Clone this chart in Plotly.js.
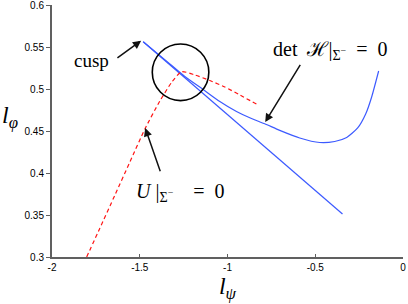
<!DOCTYPE html>
<html>
<head>
<meta charset="utf-8">
<script src="https://cdn.plot.ly/plotly-3.0.1.min.js"></script>
<style>html,body{margin:0;padding:0;background:#fff;}#chart{width:408px;height:304px;}</style>
</head>
<body>
<div id="chart"></div>
<script>
// Straight blue branch
const lineX = [-1.4804, -0.3448];
const lineY = [0.5563, 0.3512];
// Curved blue branch: det H|Σ- = 0
const detX = [-1.4804, -1.3284, -1.2430, -1.1389, -1.0438, -0.9488, -0.8731, -0.7877, -0.7023, -0.5885, -0.4746, -0.3892, -0.3209, -0.2583, -0.2127, -0.1786, -0.1388];
const detY = [0.5563, 0.5298, 0.5149, 0.4994, 0.4851, 0.4732, 0.4657, 0.4586, 0.4508, 0.4417, 0.4363, 0.4375, 0.4423, 0.4536, 0.4702, 0.4905, 0.5214];
// Red dashed: U|Σ- = 0
const uX = [-1.8025, -1.7268, -1.6414, -1.5561, -1.4707, -1.3853, -1.3170, -1.2618, -1.1861, -1.1007, -1.0154, -0.9300, -0.8350];
const uY = [0.3000, 0.3345, 0.3738, 0.4131, 0.4524, 0.4857, 0.5083, 0.5206, 0.5167, 0.5101, 0.5024, 0.4929, 0.4821];
// Ticks
const xTickVals = [-2, -1.5, -1, -0.5, 0];
const xTickText = ["-2", "-1.5", "-1", "-0.5", "0"];
const yTickVals = [0.3, 0.35, 0.4, 0.45, 0.5, 0.55, 0.6];
const yTickText = ["0.3", "0.35", "0.4", "0.45", "0.5", "0.55", "0.6"];
// Circle around cusp region
const circX = [-1.4286, -1.1064];
const circY = [0.4862, 0.5536];

const blue = "rgb(60,90,255)";
const red = "rgb(255,20,20)";
const serif = "Liberation Serif, Times New Roman, serif";

const traces = [
  {x: lineX, y: lineY, mode: "lines", line: {color: blue, width: 1.2}, hoverinfo: "skip"},
  {x: detX, y: detY, mode: "lines", line: {color: blue, width: 1.2, shape: "spline", smoothing: 0.6}, hoverinfo: "skip"},
  {x: uX, y: uY, mode: "lines", line: {color: red, width: 1.2, dash: "4px,3px", shape: "spline", smoothing: 0.6}, hoverinfo: "skip"}
];

const arrowBase = {showarrow: true, arrowhead: 2, arrowsize: 1.1, arrowwidth: 1.5, arrowcolor: "#111", text: "", axref: "x", ayref: "y", xref: "x", yref: "y"};

const layout = {
  width: 408, height: 304,
  margin: {l: 52, r: 5, t: 5, b: 47},
  paper_bgcolor: "#fff", plot_bgcolor: "#fff",
  showlegend: false,
  font: {family: "Liberation Sans, Arial, sans-serif", size: 10, color: "#000"},
  xaxis: {
    range: [-2, 0], showgrid: false, zeroline: false,
    showline: true, linecolor: "#606060", linewidth: 2,
    ticks: "inside", ticklen: 3, tickwidth: 1, tickcolor: "#606060",
    tickvals: xTickVals, ticktext: xTickText,
    tickfont: {size: 10, color: "#000"},
    title: {text: "<i>l</i><sub><i>ψ</i></sub>", font: {family: serif, size: 24, color: "#000"}, standoff: 4}
  },
  yaxis: {
    range: [0.3, 0.6], showgrid: false, zeroline: false,
    showline: true, linecolor: "#606060", linewidth: 2,
    ticks: "outside", ticklen: 4, tickwidth: 1, tickcolor: "#606060",
    tickvals: yTickVals, ticktext: yTickText,
    tickfont: {size: 10, color: "#000"},
    ticklabeloverflow: "allow"
  },
  yaxis2: {
    range: [0.3, 0.6], overlaying: "y", side: "right", anchor: "x",
    showgrid: false, zeroline: false, showline: true, linecolor: "#000", linewidth: 1,
    ticks: "inside", ticklen: 4, tickcolor: "#000", tickvals: yTickVals, showticklabels: false
  },
  xaxis2: {
    range: [-2, 0], overlaying: "x", side: "top", anchor: "y",
    showgrid: false, zeroline: false, showline: true, linecolor: "#000", linewidth: 1,
    ticks: "", showticklabels: false
  },
  shapes: [
    {type: "circle", xref: "x", yref: "y", x0: circX[0], x1: circX[1], y0: circY[0], y1: circY[1], line: {color: "#000", width: 1.6}}
  ],
  annotations: [
    {text: "<i>l</i><sub><i>φ</i></sub>", xref: "paper", yref: "paper", x: -0.12, y: 0.555, xanchor: "center", yanchor: "middle", showarrow: false, font: {family: serif, size: 24, color: "#000"}},
    {text: "cusp", x: -1.7763, y: 0.5345, xref: "x", yref: "y", showarrow: false, font: {family: serif, size: 19, color: "#000"}},
    {text: "det\u2002ℋ|<sub>Σ<sup>−</sup></sub>\u2002=\u20020", x: -0.4138, y: 0.5464, xref: "x", yref: "y", showarrow: false, font: {family: serif, size: 20, color: "#000"}},
    {text: "<i>U</i> |<sub>Σ<sup>−</sup></sub>\u2003=\u20020", x: -1.2698, y: 0.3762, xref: "x", yref: "y", showarrow: false, font: {family: serif, size: 20, color: "#000"}},
    Object.assign({}, arrowBase, {x: -1.492, y: 0.5575, ax: -1.6357, ay: 0.5357}),
    Object.assign({}, arrowBase, {x: -0.7850, y: 0.4607, ax: -0.5802, ay: 0.5306}),
    Object.assign({}, arrowBase, {x: -1.4690, y: 0.4535, ax: -1.3802, ay: 0.4004})
  ]
};

Plotly.newPlot("chart", traces, layout, {staticPlot: true, displayModeBar: false});
</script>
</body>
</html>
